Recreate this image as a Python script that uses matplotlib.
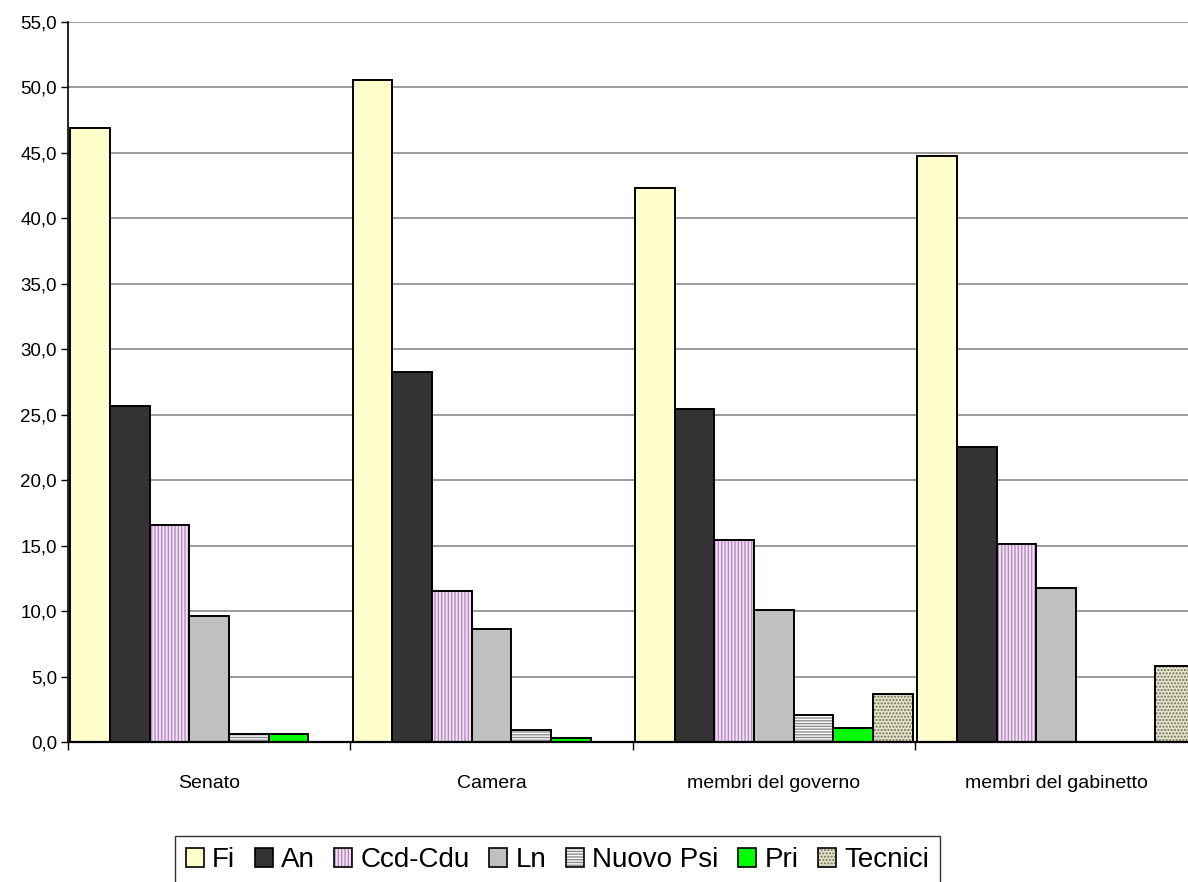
import numpy as np
import matplotlib
matplotlib.use('Agg')
import matplotlib.pyplot as plt
from matplotlib.patches import Patch
from matplotlib.ticker import FuncFormatter, MultipleLocator

plt.rcParams['font.family'] = ['Liberation Sans', 'DejaVu Sans']
plt.rcParams['hatch.linewidth'] = 1.0

# dati: percentuali per gruppo
categorie = ['Senato', 'Camera', 'membri del governo', 'membri del gabinetto']
partiti = ['Fi', 'An', 'Ccd-Cdu', 'Ln', 'Nuovo Psi', 'Pri', 'Tecnici']
fi = [46.9, 50.6, 42.3, 44.8]
an = [25.7, 28.3, 25.4, 22.5]
ccd_cdu = [16.6, 11.5, 15.4, 15.1]
ln = [9.6, 8.6, 10.1, 11.8]
nuovo_psi = [0.6, 0.9, 2.1, 0.0]
pri = [0.6, 0.3, 1.1, 0.0]
tecnici = [0.0, 0.0, 3.7, 5.8]

serie = [fi, an, ccd_cdu, ln, nuovo_psi, pri, tecnici]

# stile: (colore di fondo, tratteggio, colore del tratteggio)
stili = [
    ('#FFFFCC', None, None),
    ('#333333', None, None),
    ('#F2E0F2', '|||||', '#B48CC0'),
    ('#C0C0C0', None, None),
    ('#FFFFFF', '------', '#8C8C8C'),
    ('#00FF00', None, None),
    ('#E4E4CC', '.....', '#707058'),
]

fig = plt.figure(figsize=(11.88, 8.82), dpi=100)
ax = fig.add_axes([68 / 1188, 1 - 742 / 882, 1129.5 / 1188, 720 / 882])

n = len(serie)
w = 0.1405
x0 = np.arange(len(categorie)) + (1 - n * w) / 2

handles = []
for k, (valori, (fc, hatch, hc)) in enumerate(zip(serie, stili)):
    xs = x0 + k * w
    vals = np.array(valori)
    mask = vals > 0
    if hatch:
        ax.bar(xs[mask], vals[mask], width=w, align='edge', facecolor=fc,
               hatch=hatch, edgecolor=hc, linewidth=0, zorder=3)
        ax.bar(xs[mask], vals[mask], width=w, align='edge', fill=False,
               edgecolor='black', linewidth=1.4, zorder=4)
        h = (Patch(facecolor=fc, hatch=hatch, edgecolor=hc, linewidth=0),
             Patch(fill=False, edgecolor='black', linewidth=1.2))
    else:
        ax.bar(xs[mask], vals[mask], width=w, align='edge', facecolor=fc,
               edgecolor='black', linewidth=1.4, zorder=3)
        h = Patch(facecolor=fc, edgecolor='black', linewidth=1.2)
    handles.append(h)

ax.set_xlim(0, len(categorie))
ax.set_ylim(0, 55)
ax.yaxis.set_major_locator(MultipleLocator(5))
ax.yaxis.set_major_formatter(FuncFormatter(lambda v, p: f'{v:.1f}'.replace('.', ',')))
ax.grid(axis='y', color='#808080', linewidth=1.1, zorder=0)
ax.set_axisbelow(True)

ax.set_xticks(np.arange(len(categorie)) + 0.5)
ax.set_xticklabels(categorie)
ax.set_xticks(np.arange(len(categorie) + 1), minor=True)
ax.tick_params(axis='x', which='major', length=0, pad=24, labelsize=14)
ax.tick_params(axis='x', which='minor', length=6, width=1, direction='out')
ax.tick_params(axis='y', length=5, width=1, direction='out', pad=3, labelsize=13.5)

for s in ['top', 'right']:
    ax.spines[s].set_visible(False)
ax.spines['left'].set_linewidth(1.2)
ax.spines['bottom'].set_linewidth(1.6)
ax.spines['bottom'].set_zorder(5)

leg = fig.legend(handles, partiti, loc='upper center',
                 bbox_to_anchor=(557.5 / 1188, 1 - 836 / 882), ncol=7,
                 frameon=True, fancybox=False, fontsize=20,
                 handlelength=0.65, handleheight=0.65, handletextpad=0.3,
                 columnspacing=0.7, borderpad=0.4, borderaxespad=0)
leg.get_frame().set_edgecolor('black')
leg.get_frame().set_linewidth(1.0)

fig.savefig('out.png', dpi=100)
